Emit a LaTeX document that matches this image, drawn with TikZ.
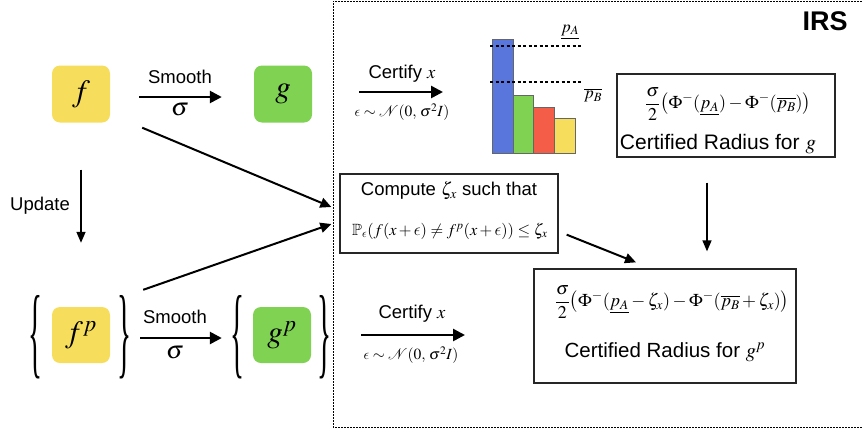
\documentclass[tikz,border=0pt]{standalone}
\usepackage{amsmath}
\usepackage{amssymb}
\usepackage{mathptmx}
\usepackage{graphicx}
\usepackage[no-math]{fontspec}
\setmainfont{Liberation Sans}
\newfontfamily\bracefont{Liberation Serif}
\usetikzlibrary{arrows.meta}
\DeclareSymbolFont{cmlett}{OML}{cmm}{m}{it}
\DeclareMathSymbol{\lunate}{\mathord}{cmlett}{"0F}
\definecolor{fyellow}{RGB}{246,222,92}
\definecolor{fgreen}{RGB}{128,210,82}
\definecolor{bblue}{RGB}{88,118,220}
\definecolor{bred}{RGB}{244,94,72}
\newcommand{\bigbrace}[1]{\resizebox{14pt}{70pt}{\bracefont\fontsize{40}{40}\selectfont #1}}
\tikzset{
  fbox/.style={fill=fyellow,rounded corners=8pt,minimum width=58pt,minimum height=57pt,inner sep=0pt,font={\fontsize{31}{33}\selectfont}},
  gbox/.style={fbox,fill=fgreen},
  brace/.style={inner sep=0pt},
  lbl/.style={inner sep=0pt,font={\fontsize{18.5}{21}\selectfont}},
  sig/.style={inner sep=0pt,font={\fontsize{25}{27}\selectfont}},
  eps/.style={inner sep=0pt,font={\fontsize{15.5}{17}\selectfont}},
  frm/.style={draw=black!85,line width=1.3pt,inner sep=0pt},
  bigarrow/.style={line width=2.6pt,-{Triangle[length=12pt,width=12pt]}},
  diagarrow/.style={line width=2pt,-{Triangle[length=11pt,width=10pt]}},
  vertarrow/.style={line width=1.6pt,-{Triangle[length=11pt,width=9pt]}},
  bar/.style={draw=black!60,line width=0.8pt},
}
\begin{document}
\begin{tikzpicture}[x=1pt,y=-1pt]
\useasboundingbox (0,0) rectangle (862,429);
% IRS region
\draw[line width=1pt,dash pattern=on 1.6pt off 1.4pt] (862,1) -- (333,1) -- (333,427) -- (862,427);
\node[inner sep=0pt,font={\fontsize{27}{29}\selectfont\bfseries}] (irs) at (825,21) {IRS};

% left side
\node[fbox] (f) at (81,94) {$f$};
\node[gbox] (g) at (283,94) {$g$};
\node[fbox,minimum height=56pt] (fp) at (81,335) {$f^{p}$};
\node[gbox,minimum height=56pt] (gp) at (282,335) {$g^{p}$};
\node[brace] (lbf) at (35,337) {\bigbrace{\{}};
\node[brace] (rbf) at (124,337) {\bigbrace{\}}};
\node[brace] (lbg) at (237,337) {\bigbrace{\{}};
\node[brace] (rbg) at (324,337) {\bigbrace{\}}};

\draw[bigarrow] ([xshift=29pt,yshift=-3pt]f.east) -- ([xshift=-32pt,yshift=-3pt]g.west);
\node[lbl] (sm1) at (180,77) {Smooth};
\node[sig] (s1) at (180,110) {$\sigma$};
\draw[bigarrow] ([xshift=9pt,yshift=-1pt]rbf.east) -- ([xshift=-8pt,yshift=-1pt]lbg.west);
\node[lbl] (sm2) at (175,317) {Smooth};
\node[sig] (s2) at (175,353) {$\sigma$};

\draw[vertarrow] ([yshift=-47pt]f.south) -- ([yshift=64pt]fp.north);
\node[lbl] (upd) at (40,206) {Update};

% compute box
\node[frm,minimum width=218pt,minimum height=79pt] (comp) at (449,213.5) {};
\node[lbl] (comptxt) at (449,191) {Compute $\zeta_x$ such that};
\node[inner sep=0pt,font={\fontsize{16.3}{18}\selectfont}] (compf) at (450,231)
  {$\mathbb{P}_{\lunate}(f(x+\lunate)\neq f^{p}(x+\lunate))\leq\zeta_x$};

\draw[diagarrow] ([shift={(32pt,-5pt)}]f.south east) -- ([shift={(-8pt,6.5pt)}]comp.west);
\draw[diagarrow] ([shift={(33pt,17pt)}]fp.north east) -- ([shift={(-8pt,-10.5pt)}]comp.west);

% top certify
\coordinate (c1s) at (359,92);
\coordinate (c1e) at (443,92);
\draw[bigarrow] (c1s) -- (c1e);
\node[lbl] (cert1) at (402,74) {Certify $x$};
\node[eps] (eps1) at (402,112) {$\lunate\sim\mathcal{N}(0,\,\sigma^{2}I)$};

% bar chart
\draw[bar,fill=bblue] (492,39) rectangle (513,153);
\draw[bar,fill=fgreen] (513,95) rectangle (533,153);
\draw[bar,fill=bred] (533,107) rectangle (554,153);
\draw[bar,fill=fyellow] (554,118) rectangle (575,153);
\draw[line width=1.1pt,dash pattern=on 3pt off 2.5pt] (490,46) -- (581,46);
\draw[line width=1.1pt,dash pattern=on 3pt off 2.5pt] (490,82) -- (581,82);
\node[eps,font={\fontsize{17}{19}\selectfont}] (pa) at (570,32) {$\underline{p_A}$};
\node[eps,font={\fontsize{17}{19}\selectfont}] (pb) at (593,95) {$\overline{p_B}$};

% certified radius g
\node[frm,minimum width=218pt,minimum height=83pt] (crg) at (726,115.5) {};
\node[inner sep=0pt,font={\fontsize{18}{20}\selectfont}] (crgf) at (728,104)
  {$\dfrac{\sigma}{2}\big(\Phi^{-}(\underline{p_A})-\Phi^{-}(\overline{p_B})\big)$};
\node[inner sep=0pt,font={\fontsize{21}{23}\selectfont}] (crgt) at (718,144) {Certified Radius for $g$};

% bottom certify
\coordinate (c2s) at (361,335);
\coordinate (c2e) at (465,335);
\draw[bigarrow] (c2s) -- (c2e);
\node[lbl] (cert2) at (412,314) {Certify $x$};
\node[eps] (eps2) at (411,355) {$\lunate\sim\mathcal{N}(0,\,\sigma^{2}I)$};

% certified radius gp
\node[frm,minimum width=262pt,minimum height=114pt] (crp) at (665,326) {};
\node[inner sep=0pt,font={\fontsize{18}{20}\selectfont}] (crpf) at (672,302)
  {$\dfrac{\sigma}{2}\big(\Phi^{-}(\underline{p_A}-\zeta_x)-\Phi^{-}(\overline{p_B}+\zeta_x)\big)$};
\node[inner sep=0pt,font={\fontsize{20.5}{23}\selectfont}] (crpt) at (665,352) {Certified Radius for $g^{p}$};

\draw[diagarrow] ([shift={(8pt,19pt)}]comp.south east) -- ([shift={(-29pt,6pt)}]crp.north);
\draw[vertarrow] ([shift={(-19pt,-25pt)}]crg.south) -- ([shift={(42pt,17pt)}]crp.north);
\end{tikzpicture}
\end{document}
